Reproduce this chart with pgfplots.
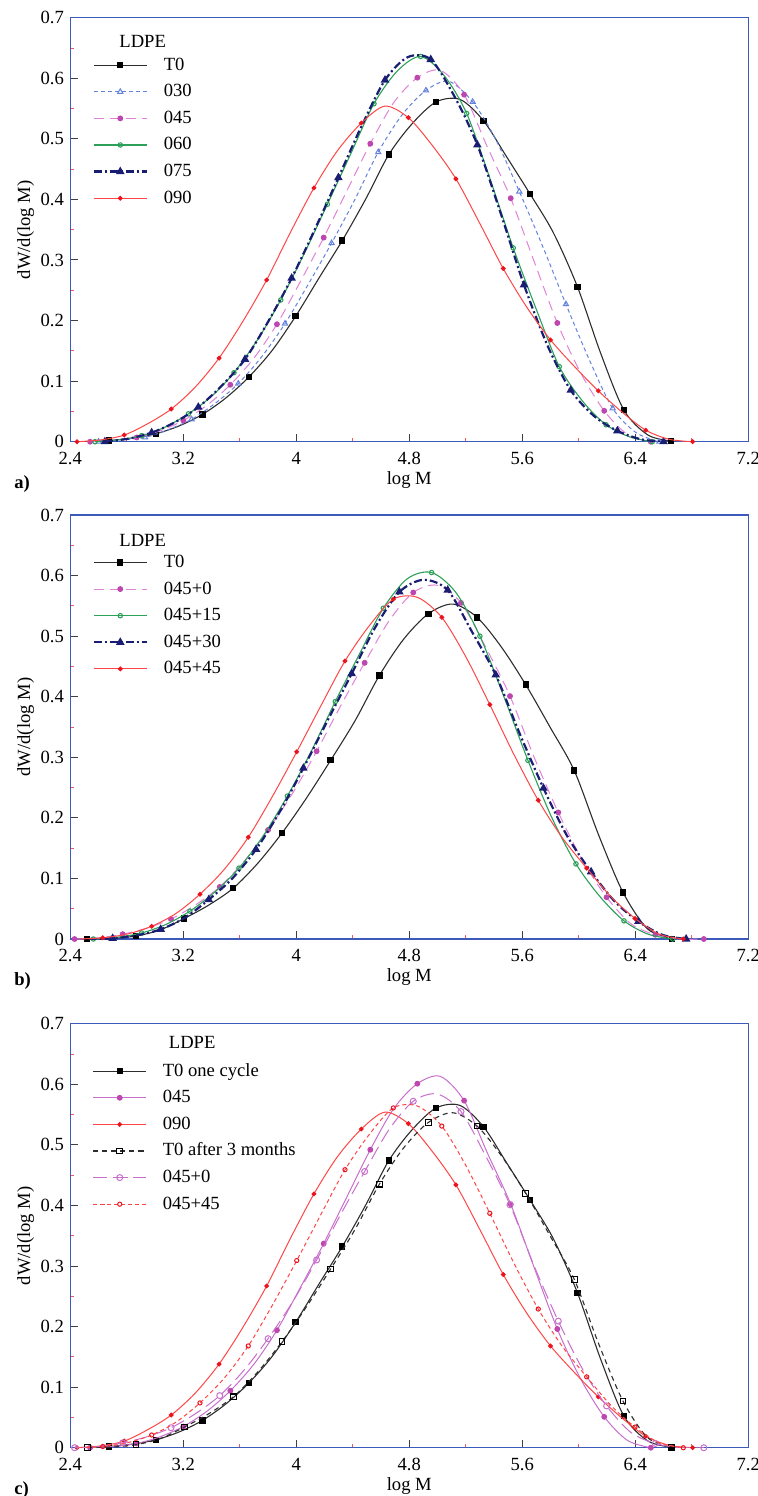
\documentclass[border=0pt]{standalone}
\usepackage{fontspec}
\setmainfont{Liberation Serif}
\usepackage{pgfplots}
\usepackage{pgfplotstable}
\pgfplotsset{compat=1.18}

\definecolor{frameblue}{RGB}{60,90,185}
\definecolor{tzero}{RGB}{45,45,45}
\definecolor{cblue}{RGB}{100,130,220}
\definecolor{cpink}{RGB}{225,130,215}
\definecolor{cpinkm}{RGB}{190,70,175}
\definecolor{cgreen}{RGB}{45,160,90}
\definecolor{cnavy}{RGB}{25,30,115}
\definecolor{cred}{RGB}{255,70,70}
\definecolor{credm}{RGB}{235,20,30}
\definecolor{corchid}{RGB}{200,110,205}
\definecolor{mtick}{RGB}{240,90,90}

% ---------- panel a ----------
\pgfplotstableread{
x y
2.51 0
2.675 0.002
2.84 0.006
3.005 0.013
3.17 0.026
3.335 0.045
3.50 0.072
3.665 0.107
3.83 0.151
3.995 0.207
4.16 0.270
4.325 0.332
4.49 0.400
4.655 0.474
4.82 0.525
4.99 0.561
5.16 0.565
5.325 0.530
5.49 0.470
5.655 0.409
5.82 0.345
5.99 0.256
6.155 0.146
6.32 0.052
6.49 0.011
6.655 0.001
}\TzeroA

\pgfplotstableread{
x y
2.60 0
2.76 0.003
2.929 0.007
3.094 0.020
3.259 0.037
3.424 0.063
3.589 0.096
3.754 0.140
3.92 0.195
4.085 0.260
4.25 0.328
4.415 0.400
4.58 0.478
4.75 0.540
4.918 0.580
5.08 0.595
5.249 0.561
5.41 0.500
5.579 0.413
5.74 0.325
5.909 0.227
6.075 0.135
6.24 0.055
6.405 0.015
6.57 0
}\SthirtyA

\pgfplotstableread{
x y
2.54 0
2.705 0.002
2.87 0.007
3.035 0.018
3.2 0.035
3.366 0.060
3.533 0.094
3.70 0.138
3.863 0.194
4.03 0.265
4.194 0.337
4.36 0.415
4.524 0.492
4.69 0.560
4.857 0.601
5.02 0.613
5.188 0.573
5.35 0.488
5.518 0.402
5.68 0.300
5.848 0.196
6.01 0.115
6.18 0.051
6.345 0.012
6.51 0
}\FfortyfiveA

\pgfplotstableread{
x y
2.575 0
2.74 0.003
2.906 0.010
3.07 0.024
3.236 0.046
3.40 0.075
3.559 0.114
3.73 0.170
3.89 0.234
4.055 0.310
4.22 0.392
4.385 0.475
4.55 0.558
4.715 0.612
4.88 0.636
5.045 0.605
5.206 0.542
5.37 0.435
5.536 0.320
5.70 0.218
5.862 0.124
6.03 0.066
6.193 0.028
6.36 0.008
6.52 0
}\SsixtyA

\pgfplotstableread{
x y
2.645 0
2.81 0.005
2.976 0.015
3.14 0.032
3.306 0.057
3.47 0.092
3.637 0.136
3.80 0.198
3.967 0.270
4.13 0.350
4.298 0.436
4.46 0.520
4.628 0.597
4.79 0.635
4.952 0.631
5.12 0.570
5.282 0.490
5.45 0.375
5.612 0.259
5.78 0.158
5.943 0.085
6.11 0.042
6.273 0.018
6.44 0.004
6.60 0
}\SseventyfiveA

\pgfplotstableread{
x y
2.447 0
2.615 0.003
2.782 0.011
2.95 0.030
3.115 0.054
3.284 0.090
3.453 0.138
3.62 0.198
3.79 0.267
3.957 0.345
4.125 0.419
4.29 0.480
4.46 0.526
4.627 0.554
4.793 0.535
4.96 0.490
5.13 0.434
5.30 0.360
5.465 0.286
5.632 0.222
5.80 0.168
5.97 0.124
6.138 0.084
6.306 0.049
6.474 0.019
6.64 0.004
6.806 0
}\NninetyA

% ---------- panel b ----------
\pgfplotstableread{
x y
2.52 0
2.69 0.001
2.865 0.005
3.036 0.015
3.207 0.034
3.38 0.056
3.554 0.084
3.727 0.125
3.899 0.175
4.07 0.232
4.243 0.295
4.415 0.360
4.588 0.435
4.76 0.495
4.935 0.537
5.108 0.553
5.28 0.531
5.452 0.482
5.624 0.420
5.796 0.350
5.968 0.278
6.14 0.172
6.313 0.077
6.485 0.017
6.658 0
}\TzeroB

\pgfplotstableread{
x y
2.43 0
2.60 0.002
2.771 0.008
2.942 0.018
3.113 0.033
3.285 0.056
3.458 0.086
3.63 0.128
3.80 0.180
3.972 0.240
4.144 0.310
4.314 0.385
4.484 0.456
4.656 0.525
4.828 0.572
4.997 0.584
5.166 0.555
5.34 0.482
5.513 0.401
5.684 0.300
5.855 0.209
6.026 0.130
6.197 0.069
6.37 0.025
6.542 0.007
6.715 0
6.885 0
}\PzeroB

\pgfplotstableread{
x y
2.563 0
2.734 0.003
2.905 0.010
3.076 0.024
3.247 0.046
3.42 0.077
3.594 0.117
3.765 0.170
3.937 0.236
4.106 0.310
4.276 0.392
4.446 0.470
4.616 0.546
4.787 0.595
4.958 0.605
5.13 0.572
5.30 0.500
5.47 0.400
5.64 0.295
5.81 0.200
5.98 0.124
6.15 0.070
6.32 0.030
6.49 0.008
6.665 0
}\PfifteenB

\pgfplotstableread{
x y
2.53 0
2.70 0.001
2.87 0.006
3.04 0.016
3.21 0.035
3.38 0.065
3.547 0.100
3.715 0.148
3.883 0.210
4.05 0.282
4.22 0.360
4.392 0.438
4.56 0.515
4.73 0.573
4.90 0.593
5.072 0.576
5.242 0.508
5.412 0.436
5.58 0.340
5.75 0.249
5.918 0.170
6.087 0.111
6.255 0.062
6.422 0.029
6.59 0.007
6.76 0
}\PthirtyB

\pgfplotstableread{
x y
2.46 0
2.63 0.002
2.80 0.008
2.976 0.021
3.147 0.042
3.318 0.074
3.49 0.115
3.66 0.168
3.83 0.235
4.003 0.309
4.174 0.385
4.345 0.459
4.516 0.517
4.687 0.561
4.858 0.564
5.03 0.531
5.20 0.466
5.37 0.387
5.54 0.305
5.713 0.229
5.884 0.167
6.056 0.117
6.227 0.070
6.398 0.034
6.57 0.008
6.74 0
}\PfortyfiveB

\newcommand{\lblfont}{\fontsize{9.3}{11}\selectfont}

\pgfplotsset{
  panel/.style={
    scale only axis, width=339pt, height=212pt,
    xmin=2.4, xmax=7.2, ymin=0, ymax=0.7,
    xtick={2.4,3.2,4,4.8,5.6,6.4,7.2},
    ytick={0,0.1,0.2,0.3,0.4,0.5,0.6,0.7},
    minor x tick num=1, minor y tick num=1,
    tick pos=left, tick align=inside,
    major tick length=4pt, minor tick length=2pt,
    every major tick/.append style={black!75, line width=0.5pt},
    every minor tick/.append style={mtick, line width=0.45pt},
    axis line style={frameblue, line width=0.75pt},
    tick label style={font=\lblfont},
    xticklabel style={inner sep=0pt, yshift=-5pt},
    yticklabel style={inner ysep=0pt, inner xsep=1pt, xshift=-2pt},
    label style={font=\lblfont},
    /pgf/number format/assume math mode=true,
    xlabel={log M}, ylabel={dW/d(log M)},
    xlabel style={at={(axis description cs:0.5,-0.09)}, anchor=center, inner sep=0pt},
    ylabel style={at={(axis description cs:-0.066,0.5)}, anchor=center},
    clip mode=individual,
    legend cell align=left,
    legend style={draw=none, fill=none, inner sep=0pt, outer sep=0pt,
      font=\lblfont, row sep=2.3pt, column sep=7pt,
      nodes={inner sep=1pt, text height=7pt, text depth=2pt},
      at={(axis description cs:0.033,0.914)}, anchor=north west},
    legend image code/.code={%
      \draw[##1, mark repeat=2, mark phase=2] plot coordinates {(0pt,0pt) (13.25pt,0pt) (26.5pt,0pt)};},
  },
  sT0/.style={tzero, line width=0.55pt, smooth, mark=square*, mark size=1.3pt,
    mark options={solid, fill=black, draw=black}, mark repeat=2},
  sT0d/.style={tzero, line width=0.55pt, smooth, dash pattern=on 2.5pt off 2pt,
    mark=square, mark size=1.4pt, mark options={solid, fill=white, draw=black}, mark repeat=2},
  s030/.style={cblue, line width=0.5pt, smooth, dash pattern=on 2pt off 1.5pt,
    mark=triangle, mark size=1.5pt, mark options={solid}, mark repeat=2},
  s045d/.style={cpink, line width=0.5pt, smooth, dash pattern=on 5pt off 3pt,
    mark=*, mark size=1.2pt, mark options={solid, fill=cpinkm, draw=cpinkm}, mark repeat=2},
  s045s/.style={corchid, line width=0.5pt, smooth,
    mark=*, mark size=1.2pt, mark options={solid, fill=cpinkm, draw=cpinkm}, mark repeat=2},
  s045o/.style={corchid, line width=0.5pt, smooth, dash pattern=on 7pt off 3pt,
    mark=o, mark size=1.5pt, mark options={solid, draw=corchid}, mark repeat=2},
  s060/.style={cgreen, line width=0.55pt, smooth,
    mark=o, mark size=1.1pt, mark options={solid, fill=white}, mark repeat=2},
  s075/.style={cnavy, line width=1.1pt, smooth, dash pattern=on 4pt off 1.5pt on 1pt off 1.5pt,
    mark=triangle*, mark size=1.4pt, mark options={solid, fill=cnavy}, mark repeat=2},
  s090/.style={cred, line width=0.5pt, smooth,
    mark=*, mark size=0.95pt, mark options={solid, fill=credm, draw=credm}, mark repeat=2},
  s090d/.style={cred, line width=0.5pt, smooth, dash pattern=on 2pt off 1.5pt,
    mark=o, mark size=1.05pt, mark options={solid, draw=credm}, mark repeat=2},
}

\begin{document}
\begin{tikzpicture}

% ===== a =====
\begin{axis}[panel, at={(35.15pt,-220.85pt)}, anchor=south west]
\addplot[sT0, mark phase=2] table {\TzeroA}; \addlegendentry{T0}
\addplot[s030, mark phase=1] table {\SthirtyA}; \addlegendentry{030}
\addplot[s045d, mark phase=1] table {\FfortyfiveA}; \addlegendentry{045}
\addplot[s060, mark phase=1] table {\SsixtyA}; \addlegendentry{060}
\addplot[s075, mark phase=1] table {\SseventyfiveA}; \addlegendentry{075}
\addplot[s090, mark phase=1] table {\NninetyA}; \addlegendentry{090}
\node[anchor=west, font=\lblfont] at (axis description cs:0.062,0.943) {LDPE};
\node[anchor=west, font=\lblfont\bfseries] at (axis description cs:-0.093,-0.1) {a)};
\end{axis}

% ===== b =====
\begin{axis}[panel, at={(35.15pt,-469.5pt)}, anchor=south west]
\addplot[sT0, mark phase=1] table {\TzeroB}; \addlegendentry{T0}
\addplot[s045d, mark phase=1] table {\PzeroB}; \addlegendentry{045+0}
\addplot[s060, mark phase=1] table {\PfifteenB}; \addlegendentry{045+15}
\addplot[s075, mark phase=2] table {\PthirtyB}; \addlegendentry{045+30}
\addplot[s090, mark phase=2] table {\PfortyfiveB}; \addlegendentry{045+45}
\node[anchor=west, font=\lblfont] at (axis description cs:0.062,0.941) {LDPE};
\node[anchor=west, font=\lblfont\bfseries] at (axis description cs:-0.093,-0.1) {b)};
\end{axis}

% ===== c =====
\begin{axis}[panel, at={(35.15pt,-723.85pt)}, anchor=south west]
\addplot[sT0, mark phase=2] table {\TzeroA}; \addlegendentry{T0 one cycle}
\addplot[s045s, mark phase=1] table {\FfortyfiveA}; \addlegendentry{045}
\addplot[s090, mark phase=1] table {\NninetyA}; \addlegendentry{090}
\addplot[sT0d, mark phase=1] table {\TzeroB}; \addlegendentry{T0 after 3 months}
\addplot[s045o, mark phase=1] table {\PzeroB}; \addlegendentry{045+0}
\addplot[s090d, mark phase=2] table {\PfortyfiveB}; \addlegendentry{045+45}
\node[anchor=west, font=\lblfont] at (axis description cs:0.135,0.955) {LDPE};
\node[anchor=west, font=\lblfont\bfseries] at (axis description cs:-0.093,-0.1) {c)};
\end{axis}

\pgfresetboundingbox
\path (0pt,0pt) rectangle (379pt,-748pt);
\end{tikzpicture}
\end{document}
